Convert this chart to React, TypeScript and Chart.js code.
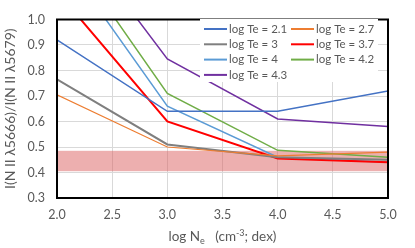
import React, { useEffect, useRef } from "react";
import { Chart, registerables } from "chart.js";

Chart.register(...registerables);

const xValues = [2, 3, 4, 5];
const seriesLabels = ["log Te = 2.1", "log Te = 2.7", "log Te = 3", "log Te = 3.7", "log Te = 4", "log Te = 4.2", "log Te = 4.3"];
const te21 = [0.92, 0.64, 0.64, 0.72];
const te27 = [0.705, 0.5, 0.465, 0.48];
const te3 = [0.765, 0.51, 0.46, 0.45];
const te37 = [1.11, 0.6, 0.455, 0.44];
const te4 = [1.27, 0.66, 0.46, 0.44];
const te42 = [1.33, 0.71, 0.487, 0.46];
const te43 = [1.42, 0.845, 0.61, 0.58];
const seriesValues = [te21, te27, te3, te37, te4, te42, te43];
const seriesColors = ["#4472C4", "#ED7D31", "#7F7F7F", "#FF0000", "#5B9BD5", "#70AD47", "#7030A0"];
const seriesWidths = [1.5, 1.2, 2, 2, 1.5, 1.5, 1.5];
const bandLow = 0.405;
const bandHigh = 0.485;
const xTicks = [2.0, 2.5, 3.0, 3.5, 4.0, 4.5, 5.0];
const yTicks = [0.3, 0.4, 0.5, 0.6, 0.7, 0.8, 0.9, 1.0];
const yTitle = "I(N II λ5666)/I(N II λ5679)";

const FONT = "Lato, 'Open Sans', sans-serif";
const TXT = "#595959";

const bandPlugin = {
  id: "band",
  beforeDatasetsDraw(chart: any) {
    const { ctx, chartArea, scales } = chart;
    const y1 = scales.y.getPixelForValue(bandHigh);
    const y2 = scales.y.getPixelForValue(bandLow);
    ctx.save();
    ctx.fillStyle = "rgba(220, 95, 95, 0.5)";
    ctx.fillRect(chartArea.left, y1, chartArea.right - chartArea.left, y2 - y1);
    ctx.restore();
  },
};

const framePlugin = {
  id: "frame",
  afterDatasetsDraw(chart: any) {
    const { ctx, chartArea } = chart;
    ctx.save();
    ctx.strokeStyle = "#000";
    ctx.lineWidth = 2;
    ctx.strokeRect(chartArea.left, chartArea.top, chartArea.right - chartArea.left, chartArea.bottom - chartArea.top);

    // legend box
    const bx = 200, by = 19, bw = 178, bh = 63;
    ctx.fillStyle = "#fff";
    ctx.fillRect(bx, by, bw, bh);
    ctx.font = `11.5px ${FONT}`;
    ctx.textBaseline = "middle";
    ctx.textAlign = "left";
    chart.data.datasets.forEach((ds: any, i: number) => {
      const col = i % 2;
      const row = Math.floor(i / 2);
      const lx = col === 0 ? 204 : 291;
      const ly = 29 + row * 15.3;
      ctx.strokeStyle = ds.borderColor;
      ctx.lineWidth = 2;
      ctx.beginPath();
      ctx.moveTo(lx, ly);
      ctx.lineTo(lx + 23, ly);
      ctx.stroke();
      ctx.fillStyle = TXT;
      ctx.fillText(ds.label, lx + 25, ly);
    });

    // x axis title with sub/superscripts
    const parts = [
      { t: "log N", s: 13.5, dy: 0 },
      { t: "e", s: 9, dy: 3 },
      { t: "   (cm", s: 13.5, dy: 0 },
      { t: "-3", s: 9, dy: -5 },
      { t: "; dex)", s: 13.5, dy: 0 },
    ];
    let total = 0;
    parts.forEach((p) => {
      ctx.font = `${p.s}px ${FONT}`;
      total += ctx.measureText(p.t).width;
    });
    let x = (chartArea.left + chartArea.right) / 2 - total / 2;
    const base = 241;
    ctx.fillStyle = TXT;
    ctx.textBaseline = "alphabetic";
    parts.forEach((p) => {
      ctx.font = `${p.s}px ${FONT}`;
      ctx.fillText(p.t, x, base + p.dy);
      x += ctx.measureText(p.t).width;
    });
    ctx.restore();
  },
};

export default function App() {
  const ref = useRef<HTMLCanvasElement>(null);
  useEffect(() => {
    document.body.style.margin = "0";
    const chart = new Chart(ref.current!, {
      type: "line",
      data: {
        datasets: seriesLabels.map((label, i) => ({
          label,
          data: xValues.map((x, j) => ({ x, y: seriesValues[i][j] })),
          borderColor: seriesColors[i],
          backgroundColor: seriesColors[i],
          borderWidth: seriesWidths[i],
          pointRadius: 0,
          tension: 0,
          fill: false,
        })),
      },
      options: {
        responsive: false,
        animation: false,
        layout: { padding: { top: 14, right: 27, left: 0, bottom: 0 } },
        plugins: { legend: { display: false }, tooltip: { enabled: false } },
        scales: {
          x: {
            type: "linear",
            min: 2,
            max: 5,
            afterBuildTicks: (s: any) => { s.ticks = xTicks.map((v) => ({ value: v })); },
            afterFit: (s: any) => { s.height = 50; },
            ticks: { callback: (v: any) => Number(v).toFixed(1), color: TXT, font: { family: FONT, size: 12.5 }, padding: 9, maxRotation: 0 },
            grid: { color: "#D9D9D9", drawTicks: false },
            border: { display: false },
          },
          y: {
            type: "linear",
            min: 0.3,
            max: 1.0,
            afterBuildTicks: (s: any) => { s.ticks = yTicks.map((v) => ({ value: v })); },
            afterFit: (s: any) => { s.width = 57; },
            ticks: { callback: (v: any) => Number(v).toFixed(1), color: TXT, font: { family: FONT, size: 12.5 }, padding: 12 },
            grid: { color: "#D9D9D9", drawTicks: false },
            border: { display: false },
            title: { display: true, text: yTitle, color: TXT, font: { family: FONT, size: 14 }, padding: { top: 2, bottom: 0 } },
          },
        },
      },
      plugins: [bandPlugin, framePlugin],
    } as any);
    return () => chart.destroy();
  }, []);
  return <canvas ref={ref} width={415} height={248} style={{ display: "block" }} />;
}
